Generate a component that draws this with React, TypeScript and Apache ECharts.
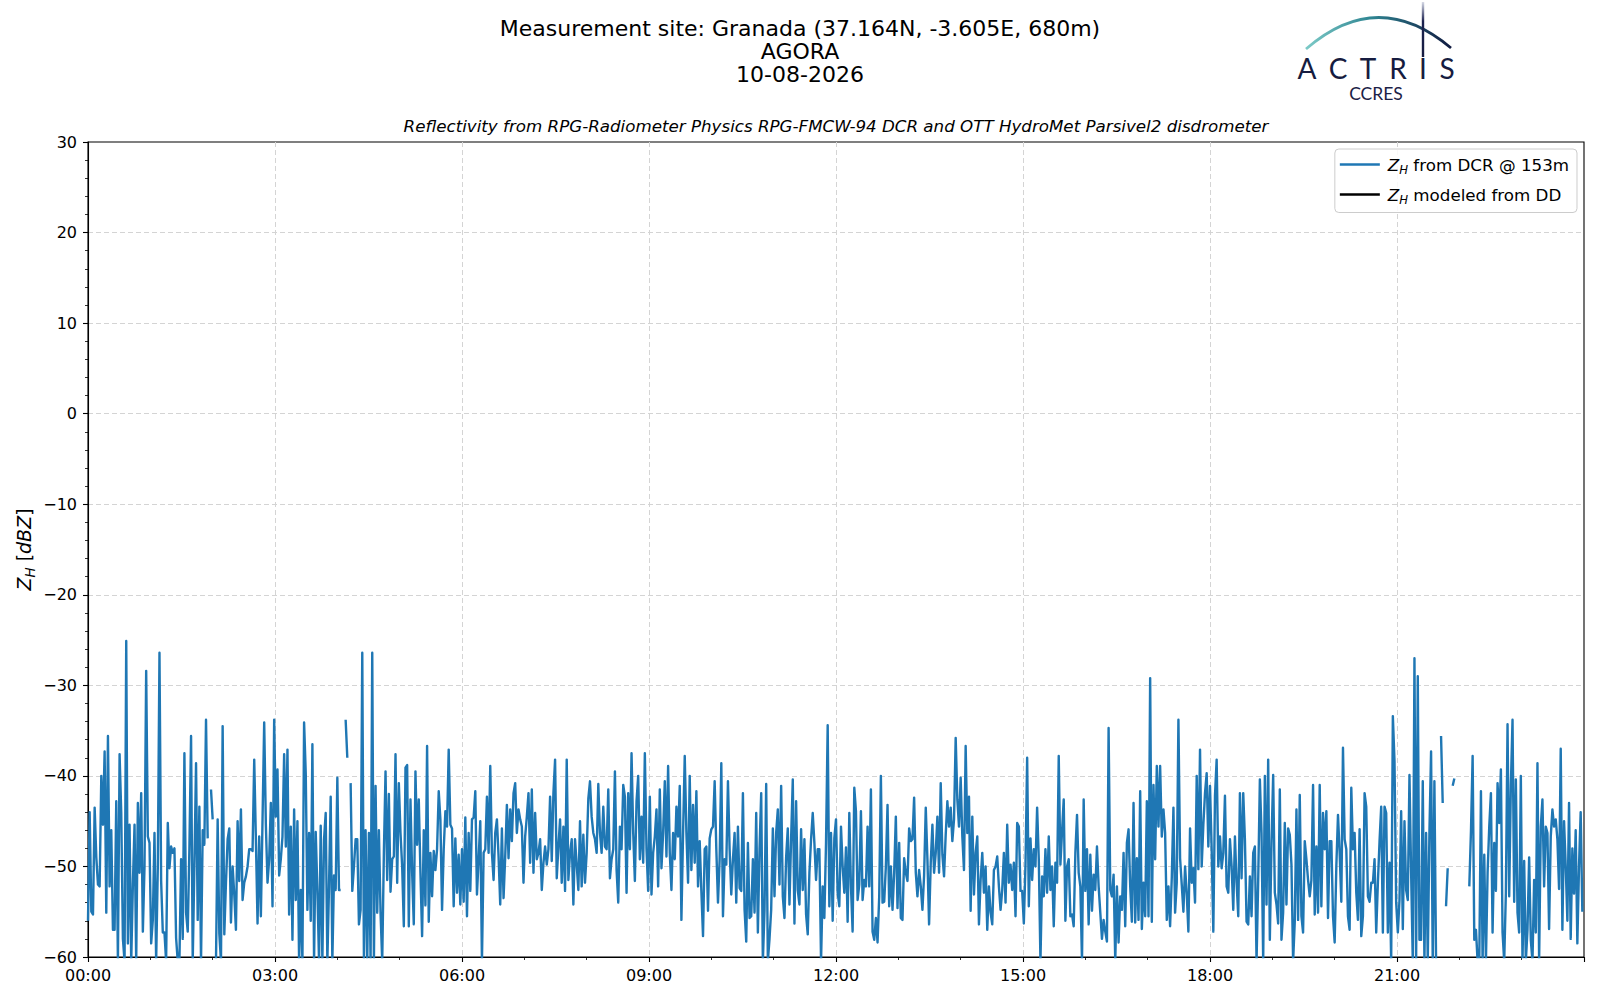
import React, { useEffect, useRef } from "react";
import * as echarts from "echarts";

// ---- data: Z_H from DCR @ 153m, one value every 1.6 min from 00:00 (null = no data)
const STEP_MIN = 1.6;

const zhFrom0000 = [
  -56, -44, -55, -55.3, -43.5, -49, -52, -52.2, -40, -45.4,
  -37.3, -55.1, -35.6, -52.2, -46, -57, -57, -42.8, -60.5, -37.6,
  -44.1, -58, -60.5, -25.1, -58.5, -45.4, -60.5, -52, -45.4, -60.5,
  -43, -50.7, -41.9, -57.2, -50, -28.4, -46.7, -47.4, -58.5, -55.9,
  -46.3, -60.5, -50, -26.4, -51.6, -57.3, -57.3, -60.5, -45.2, -50.2,
  -47.8, -48.5, -48, -57.9, -60.5, -60.5, -49.2, -58, -37.5, -55.1,
  -57.2, -48, -35.6, -60.5, -50, -38.6, -55.9, -43.4, -60.5, -46,
  -47.6, -33.8, -46.9, null, -41.5, -44.8, null, -60.5, -44.8, -57.4,
  -60.5, -34.5, -57.5, -51.8, -47, -45.8, -56.2, -50, -53.1, -57,
  -45, -51.6, -43.7, -53.7, -51.8, -51.1, -50, -48.1,
];

const zhFrom0237 = [
  -48.1, -48.3, -38.2, -47, -56.3, -46.7, -55.5, -44.8, -34.1, -45.4,
  -51.8, -49.2, -43, -54.4, -33.8, -44.5, -39.3, -51, -49.2, -46.7,
  -37.6, -47.8, -37.1, -55.3, -45.6, -58.1, -43.7, -53.7, -45, -60.5,
  -52.6, -60.5, -34.1, -39.7, -54.8, -46.3, -56, -36.5, -60.5, -46.2,
  -52.6, -60.5, -45.5, -60.5, -47, -44.1, -60.5, -52.2, -42.3, -60.5,
  -51, -52.6, -40.2, -52.6, -52.6, null, null, -33.8, -38, null,
  -40.8, -52.7, -50, -47, -47, -56.4, -54.8, -26.4, -60.5, -46,
  -60.5, -46.3, -60.5, -26.4, -60.5, -41.1, -55.1, -46, -55.1, -60.5,
  -48.5, -39.5, -51.5, -42, -52.8, -49.2, -48.9, -37.6, -51.8, -40.8,
  -46.3, -50, -56.6, -39.1, -38.8, -56.6, -42.6, -50.7,
];

const zhFrom0514 = [
  -56.4, -39.5, -47.6, -42.6, -50.7, -57.7, -46, -54.3, -36.7, -56.1,
  -48.5, -53.3, -48.3, -50.4, -48.1, -41.7, -44.8, -54.8, -48.1, -43.9,
  -45.6, -37.1, -45.4, -45.8, -54.4, -46.9, -52.9, -48.7, -54.2, -48.1,
  -53.9, -44.6, -55.5, -46.3, -52.7, -44.8, -44.6, -41.7, -53.1, -49.2,
  -45, -60.5, -48.5, -48.1, -42.3, -48.5, -38.9, -48.5, -51.5, -46.3,
  -44.8, -48.9, -54.2, -45.8, -53.5, -48.9, -43.2, -49.1, -43.7, -47.2,
  -41.9, -40.8, -46.3, -43.7, -44.8, -45.6, -51.8, -46.7, -44.5, -41.9,
  -49.6, -41.5, -50.7, -44.1, -49.2, -48.5, -47, -52.6, -49.6, -47.8,
  -49.8, -48.1, -42.3, -49.4, -41.9, -38.2, -51.3, -47.8, -44.8, -51.8,
  -45.6, -52.7, -38.2, -51.5, -48.5, -47, -54.2, -47,
];

const zhFrom0750 = [
  -49.8, -52.6, -45, -52.2, -46.5, -51.8, -48.5, -42.5, -40.6, -44.5,
  -46.3, -47, -48.5, -40.9, -46.3, -48.5, -43.4, -47.8, -48.1, -41.5,
  -51.3, -49.2, -48.1, -39.5, -50.4, -54, -45.6, -48.1, -41, -42.3,
  -52.9, -41.9, -48.1, -37.5, -46.3, -51.6, -42.8, -40, -49.2, -44.5,
  -49.6, -37.5, -48.1, -52.7, -42.3, -53.1, -48.5, -46.7, -43.7, -52.2,
  -41.5, -50.2, -46.3, -40.6, -48.9, -38.9, -48.5, -52.6, -46.3, -49.2,
  -43.4, -46.7, -41.1, -55.9, -46.3, -37.8, -46.3, -51.8, -40, -50.4,
  -43.2, -49.6, -41.7, -52.2, -47.2, -52.7, -57.7, -48.1, -47.8, -54.9,
  -46.9, -45.9, -45.6, -40.6, -48.1, -54, -49.2, -38.6, -55.5, -49.2,
  -49.8, -40.6, -48.1, -53.1, -49.2, -46.3, -54, -45.6,
];

const zhFrom1027 = [
  -52.4, -52.7, -41.9, -54.8, -58.3, -47.4, -55.7, -55.5, -49.2, -55.1,
  -44.1, -57.3, -48.1, -41.9, -60.5, -54.8, -40.9, -60.5, -58, -54.8,
  -45.8, -53.3, -46.3, -43.7, -52, -41.1, -53.3, -55.7, -49, -45.8,
  -54.2, -46.9, -40.4, -56.3, -42.8, -52.6, -54.2, -45.9, -52.6, -47,
  -55.3, -57.5, -50.7, -47, -44.1, -47.4, -51.5, -48.1, -48.1, -60.5,
  -52.2, -55.7, -47.4, -34.4, -54.4, -46.3, -56, -46.9, -44.8, -52.9,
  -54.4, -45.6, -50, -52.9, -47.9, -56.1, -44.1, -52.2, -57.2, -41.3,
  -43.9, -53.7, -52, -43.9, -53.7, -51.5, -52.2, -45.6, -52.2, -41.5,
  -57.2, -58.1, -55.7, -58.4, -53.3, -40, -54, -53.9, -50, -43.2,
  -54.4, -50, -54.8, -50.7, -44.5, -54.6, -47.4, -55.7,
];

const zhFrom1304 = [
  -55.9, -49.1, -50.7, -51.6, -45.8, -47.2, -47, -42.4, -50.7, -53.3,
  -50.4, -52.2, -54.8, -51, -43.5, -49.2, -56.4, -49.6, -45.4, -50.7,
  -48.5, -44.5, -50.7, -40.8, -48.7, -51.1, -46.5, -42.8, -45.6, -43.5,
  -47.2, -44.8, -35.8, -42.6, -45.6, -40.2, -46.7, -50.4, -36.7, -46.3,
  -42.3, -54.9, -44.5, -53.1, -48.5, -46.7, -56.4, -51.5, -48.5, -52.9,
  -50, -57, -52.2, -55.1, -56.4, -50.4, -50, -48.9, -52.2, -54.8,
  -52.6, -48.5, -54, -45.4, -51.8, -49.8, -52.6, -49.6, -55.5, -45.2,
  -45.6, -52.7, -52.7, -56.3, -49.8, -38, -54.4, -46.9, -51.5, -48.1,
  -50, -43.5, -49.2, -60.5, -51.1, -53.3, -48.1, -52.9, -46.7, -52.6,
  -50, -56.6, -49.6, -51.8, -37.8, -49.8, -46.1, -42.6,
];

const zhFrom1540 = [
  -56, -50, -49.2, -55.5, -55.3, -56.6, -48.5, -44.3, -50.7, -52.2,
  -60.5, -42.6, -52.7, -48.1, -56.4, -48.7, -54.9, -50.9, -52.6, -47.8,
  -52.2, -55.1, -58, -55.9, -57.2, -58.3, -34.7, -52.6, -53.3, -50.9,
  -60.5, -52.2, -58.4, -53.3, -54.8, -48.5, -56.6, -47.4, -45.9, -52.2,
  -56.1, -43, -56.2, -49.1, -55.9, -41.7, -56.9, -51.8, -55.5, -42.8,
  -55.5, -29.2, -56.1, -41, -49.2, -38.9, -45.6, -38.9, -46.7, -43.7,
  -46.3, -55.9, -52.2, -56.6, -51.3, -43.5, -55.1, -51.8, -33.8, -49.1,
  -52, -55, -50, -53, -57.2, -45.8, -51.8, -50.2, -54, -40,
  -50.3, -37.1, -50, -45.4, -41.9, -39.7, -47.8, -41.1, -48.1, -57.2,
  -42.2, -38.2, -50, -46.7, -50.2, -48.5, -42.2, -52.2,
];

const zhFrom1817 = [
  -52.9, -47, -50, -54.8, -46.7, -51.8, -55.5, -41.9, -51.3, -41.9,
  -47, -56.1, -56.4, -51.1, -55.5, -48.5, -47.8, -60.5, -51.5, -40.4,
  -46.3, -60.5, -40, -54.2, -38.2, -58.1, -47.4, -39.9, -52.9, -54.2,
  -56.3, -41.5, -58.1, -55.1, -45.2, -54.2, -45.8, -46.5, -49.8, -60.5,
  -56.1, -43.7, -55.9, -42.1, -55.5, -57.3, -47.2, -49.2, -51.5, -53.3,
  -51.5, -41, -55.3, -47.8, -55.1, -41, -54.4, -44.1, -48.1, -43.9,
  -55.7, -47.2, -47.2, -55.5, -58.4, -50, -44.3, -48.5, -53.9, -36.9,
  -47, -48.1, -55.5, -57, -41.3, -48.1, -46.3, -52.9, -55.9, -45.9,
  -57.7, -55.5, -41.9, -43.4, -53.3, -53.9, -51.8, -51.8, -49.2, -57.3,
  -51.8, -47.2, -43.4, -57.3, -43.4, -44.1, -57.3, -49.6,
];

const zhFrom2054 = [
  -60.5, -33.4, -38.4, -54, -57.3, -53.7, -43.9, -56.9, -45, -52.6,
  -53.7, -39.9, -50.7, -60.5, -27, -60.5, -29, -58.1, -58.1, -40.6,
  -60.5, -46.3, -60.5, -46.3, -37.3, -60.5, -40.6, -60.5, null, null,
  -35.6, -43, null, -54.4, -50.2, null, null, -41.1, -40.3, null,
  null, null, null, null, null, null, null, -52.2, -46.1, -37.8,
  -58.1, -57, -60.5, -60.5, -41.7, -60.5, -48.7, -60.5, -50.7, -45.6,
  -41.9, -57.3, -47.4, -52.7, -40.8, -45.2, -39.3, -57.3, -60.5, -52.9,
  -34.3, -53.3, -41.1, -33.8, -53.9, -40.4, -55.1, -57.3, -40, -60.5,
  -49.4, -60.5, -57, -49, -58.1, -60.5, -51.5, -57.3, -38.6, -60.5,
  -45.6, -42.6, -52.2, -45.6, -46.3, -56.9, -46.7, -43.7, -45.6, -44.8,
];

const zhFrom2334 = [
  -47, -52.5, -37, -57, -45, -50, -56, -43, -58, -48, -53, -46, -58.5, -50, -44, -55,
];

// Z_H modeled from the disdrometer: no values on this day
const zhModeledDD: (number | null)[] = [];

const zhDCR: (number | null)[] = [
  ...zhFrom0000, ...zhFrom0237, ...zhFrom0514, ...zhFrom0750, ...zhFrom1027,
  ...zhFrom1304, ...zhFrom1540, ...zhFrom1817, ...zhFrom2054, ...zhFrom2334,
];

const X_TICK_LABELS = ["00:00", "03:00", "06:00", "09:00", "12:00", "15:00", "18:00", "21:00"];
const X_MIN = 0;
const X_MAX = 1440;
const X_INTERVAL = 180;
const Y_MIN = -60;
const Y_MAX = 30;
const Y_INTERVAL = 10;

const TITLE_LINES = ["Measurement site: Granada (37.164N, -3.605E, 680m)", "AGORA", "10-08-2026"];
const SUBTITLE = "Reflectivity from RPG-Radiometer Physics RPG-FMCW-94 DCR and OTT HydroMet Parsivel2 disdrometer";
const LEGEND_DCR = "ZH from DCR @ 153m";
const LEGEND_DD = "ZH modeled from DD";

const FONT = "DejaVu Sans";
const BLUE = "#1f77b4";
const NAVY = "#161c40";

export default function App() {
  const ref = useRef<HTMLDivElement>(null);

  useEffect(() => {
    if (!ref.current) return;
    const chart = echarts.init(ref.current, null, { renderer: "svg" });

    const dcrPoints = zhDCR.map((v, i) => [i * STEP_MIN, v === null ? "-" : v]);
    const ddPoints = zhModeledDD.map((v, i) => [i * STEP_MIN, v === null ? "-" : v]);

    const arcGradient = new echarts.graphic.LinearGradient(0, 0, 1, 0, [
      { offset: 0, color: "#7ccac7" },
      { offset: 0.45, color: "#2f8592" },
      { offset: 1, color: "#101a40" },
    ]);
    const poleGradient = new echarts.graphic.LinearGradient(0, 0, 0, 1, [
      { offset: 0, color: "#d6d9e6" },
      { offset: 0.35, color: "#1c2350" },
      { offset: 1, color: NAVY },
    ]);

    const letters = [
      { t: "A", x: 1307 },
      { t: "C", x: 1338 },
      { t: "T", x: 1368 },
      { t: "R", x: 1398 },
      { t: "I", x: 1423 },
      { t: "S", x: 1447 },
    ];

    const axisCommon = {
      axisTick: { show: true, inside: false, length: 5, lineStyle: { color: "#000", width: 1.1 } },
      splitLine: {
        show: true,
        showMinLine: false,
        showMaxLine: false,
        lineStyle: { color: "#d4d4d4", type: [5, 3], width: 1 },
      },
    };

    const option: any = {
      animation: false,
      backgroundColor: "#ffffff",
      textStyle: { fontFamily: FONT },
      grid: {
        left: 88,
        top: 142,
        width: 1496,
        height: 815,
        show: true,
        borderColor: "#000",
        borderWidth: 1.1,
        backgroundColor: "transparent",
      },
      xAxis: {
        type: "value",
        min: X_MIN,
        max: X_MAX,
        interval: X_INTERVAL,
        ...axisCommon,
        axisLine: { show: true, onZero: false, lineStyle: { color: "#000", width: 1.1 } },
        minorTick: { show: true, splitNumber: 3, length: 3, lineStyle: { color: "#000", width: 0.8 } },
        axisLabel: {
          color: "#000",
          fontSize: 16,
          fontFamily: FONT,
          margin: 10,
          showMaxLabel: false,
          formatter: (v: number) => X_TICK_LABELS[Math.round(v / X_INTERVAL)] ?? "",
        },
      },
      yAxis: {
        type: "value",
        min: Y_MIN,
        max: Y_MAX,
        interval: Y_INTERVAL,
        ...axisCommon,
        axisLine: { show: true, onZero: false, lineStyle: { color: "#000", width: 1.1 } },
        minorTick: { show: true, splitNumber: 5, length: 3, lineStyle: { color: "#000", width: 0.8 } },
        axisLabel: {
          color: "#000",
          fontSize: 16,
          fontFamily: FONT,
          margin: 11,
          formatter: (v: number) => String(v).replace("-", "\u2212"),
        },
        name: "{z|Z}{s|H}{n| [}{z|dBZ}{n|]}",
        nameLocation: "middle",
        nameRotate: 90,
        nameGap: 51,
        nameMoveOverlap: false,
        nameTextStyle: {
          color: "#000",
          fontFamily: FONT,
          fontSize: 19,
          rich: {
            z: { fontSize: 19, fontStyle: "italic", fontFamily: FONT, color: "#000", lineHeight: 26 },
            n: { fontSize: 19, fontFamily: FONT, color: "#000", lineHeight: 26 },
            s: { fontSize: 13.5, fontStyle: "italic", fontFamily: FONT, color: "#000", verticalAlign: "bottom" },
          },
        },
      },
      legend: {
        orient: "vertical",
        right: 23,
        top: 149,
        data: [LEGEND_DCR, LEGEND_DD],
        icon: "rect",
        itemWidth: 40,
        itemHeight: 2.4,
        itemGap: 10.5,
        padding: [7, 8, 7, 5],
        backgroundColor: "rgba(255,255,255,0.85)",
        borderColor: "#cccccc",
        borderWidth: 1,
        borderRadius: 4,
        formatter: (name: string) =>
          name === LEGEND_DCR ? "{z|Z}{s|H}{t| from DCR @ 153m}" : "{z|Z}{s|H}{t| modeled from DD}",
        textStyle: {
          color: "#000",
          fontFamily: FONT,
          fontSize: 16.7,
          padding: [0, 0, 0, 3],
          rich: {
            z: { fontSize: 16.7, fontStyle: "italic", fontFamily: FONT, color: "#000", lineHeight: 22 },
            s: { fontSize: 11.7, fontStyle: "italic", fontFamily: FONT, color: "#000", verticalAlign: "bottom" },
            t: { fontSize: 16.7, fontFamily: FONT, color: "#000", lineHeight: 22 },
          },
        },
      },
      series: [
        {
          name: LEGEND_DCR,
          type: "line",
          data: dcrPoints,
          symbol: "none",
          showSymbol: false,
          connectNulls: false,
          clip: true,
          silent: true,
          itemStyle: { color: BLUE },
          lineStyle: { color: BLUE, width: 2.4, join: "round" },
          z: 3,
        },
        {
          name: LEGEND_DD,
          type: "line",
          data: ddPoints,
          symbol: "none",
          showSymbol: false,
          silent: true,
          itemStyle: { color: "#000" },
          lineStyle: { color: "#000", width: 2.1 },
          z: 4,
        },
      ],
      graphic: [
        ...TITLE_LINES.map((t, i) => ({
          type: "text",
          x: 800,
          y: 28.6 + i * 23,
          silent: true,
          style: {
            text: t,
            fill: "#000",
            fontSize: 22,
            fontFamily: FONT,
            textAlign: "center",
            textVerticalAlign: "middle",
            verticalAlign: "middle",
          },
        })),
        {
          type: "text",
          x: 836,
          y: 125.5,
          silent: true,
          style: {
            text: SUBTITLE,
            fill: "#000",
            fontSize: 16.7,
            fontStyle: "italic",
            fontFamily: FONT,
            textAlign: "center",
            textVerticalAlign: "middle",
            verticalAlign: "middle",
          },
        },
        // ACTRIS logo
        {
          type: "bezierCurve",
          silent: true,
          shape: { x1: 1306, y1: 49, cpx1: 1378, cpy1: -13.5, x2: 1451, y2: 48 },
          style: { stroke: arcGradient, lineWidth: 2.8, fill: null },
        },
        {
          type: "rect",
          silent: true,
          shape: { x: 1421.8, y: 2, width: 2.4, height: 55 },
          style: { fill: poleGradient },
        },
        ...letters.map((l) => ({
          type: "text",
          x: l.x,
          y: 68,
          silent: true,
          style: {
            text: l.t,
            fill: NAVY,
            fontSize: 28,
            fontFamily: "Lato",
            textAlign: "center",
            textVerticalAlign: "middle",
            verticalAlign: "middle",
          },
        })),
        {
          type: "text",
          x: 1376,
          y: 93,
          silent: true,
          style: {
            text: "CCRES",
            fill: "#1b2146",
            fontSize: 17.5,
            fontFamily: "Lato",
            textAlign: "center",
            textVerticalAlign: "middle",
            verticalAlign: "middle",
          },
        },
      ],
    };

    chart.setOption(option);
    return () => chart.dispose();
  }, []);

  return (
    <div
      ref={ref}
      style={{ position: "absolute", left: 0, top: 0, width: 1600, height: 1000, background: "#fff" }}
    />
  );
}
